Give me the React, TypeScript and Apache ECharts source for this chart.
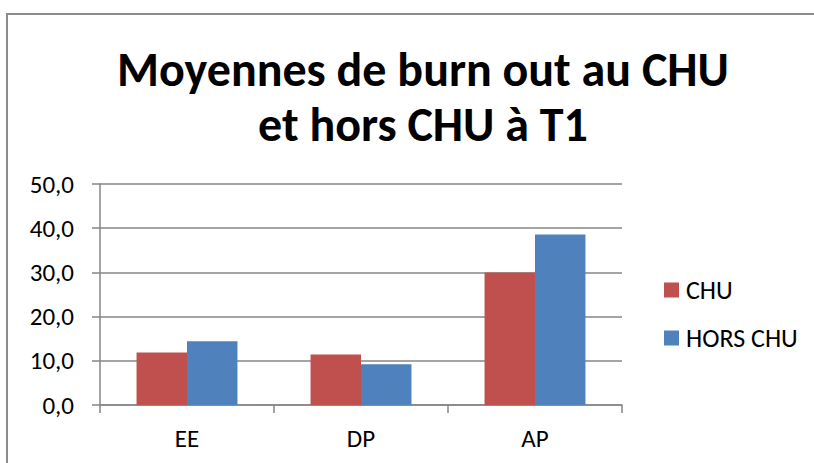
import React, { useEffect, useRef } from "react";
import * as echarts from "echarts";

const categories = ["EE", "DP", "AP"];
const chuValues = [11.9, 11.4, 30.0];
const horsChuValues = [14.4, 9.2, 38.6];
const seriesNames = ["CHU", "HORS CHU"];
const titleLines = ["Moyennes de burn out au CHU", "et hors CHU à T1"];

export default function App() {
  const ref = useRef<HTMLDivElement>(null);
  useEffect(() => {
    document.body.style.margin = "0";
    const chart = echarts.init(ref.current!, null, { renderer: "svg" });
    const font = "Carlito, 'Open Sans', 'Noto Sans', sans-serif";
    chart.setOption({
      animation: false,
      backgroundColor: "#ffffff",
      graphic: [
        {
          type: "rect",
          shape: { x: 7, y: 14, width: 900, height: 600 },
          style: { fill: "none", stroke: "#8c8c8c", lineWidth: 2 },
          silent: true,
        },
      ],
      title: {
        text: titleLines.join("\n"),
        left: 418,
        textAlign: "center",
        top: 37,
        textStyle: {
          fontFamily: font,
          fontWeight: "bold",
          fontSize: 48,
          lineHeight: 55,
          color: "#000000",
        },
      },
      legend: {
        orient: "vertical",
        left: 664,
        top: 277,
        padding: 0,
        itemWidth: 15,
        itemHeight: 15,
        itemGap: 22,
        icon: "rect",
        textStyle: { fontFamily: font, fontSize: 26, color: "#000000", padding: [0, 0, 0, 2] },
        data: seriesNames,
      },
      grid: { left: 100, right: 192, top: 184, bottom: 58 },
      xAxis: {
        type: "category",
        data: categories,
        axisLine: { lineStyle: { color: "#868686", width: 1.5 } },
        axisTick: { show: true, length: 8, lineStyle: { color: "#868686", width: 1.5 } },
        axisLabel: { fontFamily: font, fontSize: 25, color: "#000000", margin: 21 },
      },
      yAxis: {
        type: "value",
        min: 0,
        max: 50,
        interval: 10,
        axisLine: { show: true, lineStyle: { color: "#868686", width: 1.5 } },
        axisTick: { show: true, length: 8, lineStyle: { color: "#868686", width: 1.5 } },
        axisLabel: {
          fontFamily: font,
          fontSize: 25,
          color: "#000000",
          margin: 26,
          formatter: (v: number) => v.toFixed(1).replace(".", ","),
        },
        splitLine: { lineStyle: { color: "#868686", width: 1.5 } },
      },
      series: [
        {
          name: seriesNames[0],
          type: "bar",
          data: chuValues,
          itemStyle: { color: "#c0504d" },
          barGap: "0%",
          barCategoryGap: "42%",
        },
        {
          name: seriesNames[1],
          type: "bar",
          data: horsChuValues,
          itemStyle: { color: "#4f81bd" },
          barGap: "0%",
          barCategoryGap: "42%",
        },
      ],
    });
    return () => chart.dispose();
  }, []);
  return <div ref={ref} style={{ width: 814, height: 463 }} />;
}
